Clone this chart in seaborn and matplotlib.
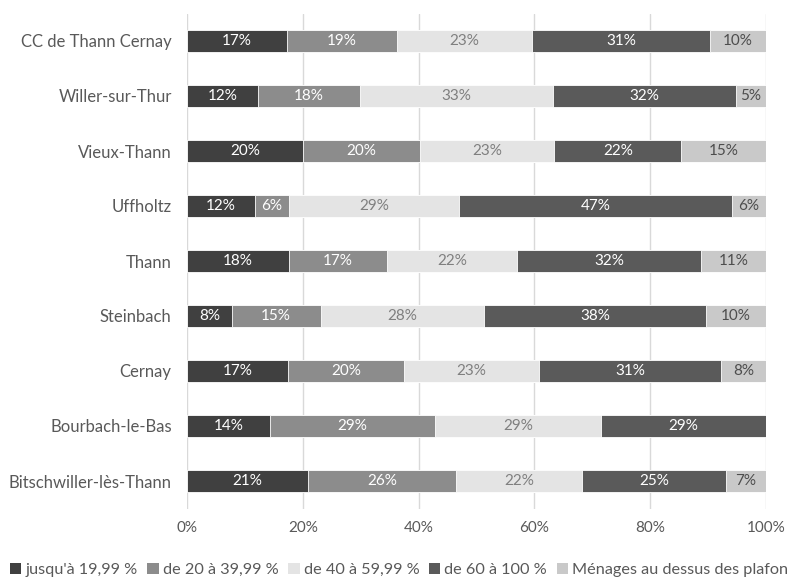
import numpy as np
import pandas as pd
import seaborn as sns
import matplotlib.pyplot as plt
from matplotlib.patches import Patch

# Communes, top to bottom
communes = [
    "CC de Thann Cernay",
    "Willer-sur-Thur",
    "Vieux-Thann",
    "Uffholtz",
    "Thann",
    "Steinbach",
    "Cernay",
    "Bourbach-le-Bas",
    "Bitschwiller-lès-Thann",
]

# Share of households (%) per income bracket
jusqua_19 = [17.3, 12.2, 20.0, 11.7, 17.6, 7.7, 17.4, 14.29, 20.9]
de_20_39 = [19.0, 17.6, 20.2, 5.9, 17.0, 15.4, 20.1, 28.57, 25.6]
de_40_59 = [23.2, 33.4, 23.2, 29.4, 22.4, 28.2, 23.3, 28.57, 21.7]
de_60_100 = [30.9, 31.6, 22.0, 47.1, 31.8, 38.4, 31.4, 28.57, 24.9]
au_dessus = [9.6, 5.2, 14.6, 5.9, 11.2, 10.3, 7.8, 0.0, 6.9]

series_names = [
    "jusqu'à 19,99 %",
    "de 20 à 39,99 %",
    "de 40 à 59,99 %",
    "de 60 à 100 %",
    "Ménages au dessus des plafonds",
]
series_colors = ["#404040", "#8c8c8c", "#e4e4e4", "#5a5a5a", "#c9c9c9"]
label_colors = ["white", "white", "#7f7f7f", "white", "#4d4d4d"]
x_ticks = [0, 20, 40, 60, 80, 100]

sns.set_theme(style="white")
plt.rcParams["font.family"] = ["Lato", "DejaVu Sans"]

values = np.array([jusqua_19, de_20_39, de_40_59, de_60_100, au_dessus])
cumul = np.cumsum(values, axis=0)

W, H = 787, 580
fig = plt.figure(figsize=(W / 100, H / 100), dpi=100)
ax = fig.add_axes([187 / W, 1 - 508.5 / H, (766 - 187) / W, (508.5 - 13.5) / H])

# Stacked bars: draw cumulative totals from the outermost series inwards
for i in reversed(range(len(series_names))):
    df = pd.DataFrame({"commune": communes, "cumul": cumul[i]})
    sns.barplot(
        data=df, x="cumul", y="commune", orient="h", order=communes,
        color=series_colors[i], saturation=1, width=0.4,
        edgecolor="white", linewidth=0.6, ax=ax,
    )

# Percentage labels centred in each segment
for i in range(len(series_names)):
    starts = cumul[i] - values[i]
    for row, (v, s) in enumerate(zip(values[i], starts)):
        if v <= 0:
            continue
        ax.text(s + v / 2, row, f"{round(v):.0f}%", ha="center", va="center",
                color=label_colors[i], fontsize=11)

ax.set_xlim(0, 100)
ax.set_ylim(8.5, -0.5)
ax.set_xticks(x_ticks)
ax.set_xticklabels([f"{t}%" for t in x_ticks])
ax.set_xlabel("")
ax.set_ylabel("")
ax.xaxis.grid(True, color="#d9d9d9", linewidth=1)
ax.yaxis.grid(False)
ax.set_axisbelow(True)
for sp in ax.spines.values():
    sp.set_visible(False)
ax.tick_params(axis="y", length=0, pad=11, labelsize=12, labelcolor="#595959")
ax.tick_params(axis="x", length=0, pad=9, labelsize=11, labelcolor="#595959")

handles = [Patch(facecolor=c, edgecolor="none") for c in series_colors]
fig.legend(
    handles, series_names, loc="lower left", bbox_to_anchor=(0.0, -0.012),
    ncol=5, frameon=False, handlelength=0.7, handleheight=0.7,
    handletextpad=0.25, columnspacing=0.6, fontsize=11.7,
    labelcolor="#595959", borderaxespad=0.2,
)

fig.savefig("out.png", dpi=100)
